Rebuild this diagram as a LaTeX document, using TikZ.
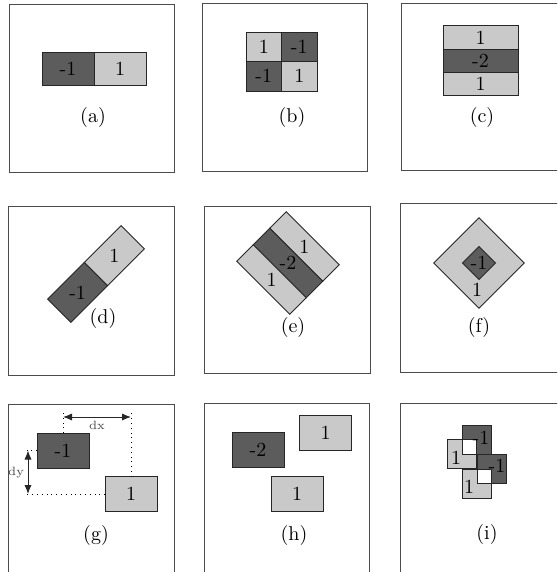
\documentclass[tikz,border=0pt]{standalone}
\usepackage{tikz}
\usetikzlibrary{arrows.meta}
\definecolor{cellneg}{gray}{0.36}
\definecolor{cellpos}{gray}{0.79}
\definecolor{framegray}{gray}{0.3}

\begin{document}
\begin{tikzpicture}[x=0.5pt,y=-0.5pt,
  every node/.style={inner sep=0pt,outer sep=0pt},
  frame/.style={draw=framegray,line width=0.45pt},
  celledge/.style={draw=black!85,line width=0.45pt},
  negfill/.style={fill=cellneg},
  posfill/.style={fill=cellpos},
  negcell/.style={negfill,celledge},
  poscell/.style={posfill,celledge},
  barcell/.style={minimum width=26pt,minimum height=16.5pt},
  blkcell/.style={minimum width=26pt,minimum height=17.5pt},
  quadcell/.style={minimum width=17.75pt,minimum height=14.75pt},
  stripcell/.style={minimum width=37.5pt,minimum height=11.6pt},
  smallsq/.style={minimum width=14.5pt,minimum height=14.5pt},
  dimline/.style={black!85,line width=0.5pt,{Latex[length=4.5pt,width=3.6pt]}-{Latex[length=4.5pt,width=3.6pt]}},
  dimtext/.style={font=\fontsize{6}{7}\selectfont,text=black!70}]
  \useasboundingbox (0,0) rectangle (557,572);
  \clip (0,0) rectangle (557,572);
  \foreach \x/\y/\X/\Y in {9/4/174/172,202/3/367/171,401/3/560/170,
                           8/206/174/375,204/206/370/373,400/203/560/372,
                           8/404/174/575,204/403/369/575,400/403/560/575}
    {\draw[frame] (\x,\y) rectangle (\X,\Y);}

  % (a)
  \node[negcell,barcell] (a1) at (68,68.5) {-1};
  \node[poscell,barcell] (a2) at (120,68.5) {1};
  \node (capa) at (93,118) {(a)};

  % (b)
  \node[poscell,quadcell] (b1) at (263.75,46.75) {1};
  \node[negcell,quadcell] (b2) at (299.25,46.75) {-1};
  \node[negcell,quadcell] (b3) at (263.75,76.25) {-1};
  \node[poscell,quadcell] (b4) at (299.25,76.25) {1};
  \node (capb) at (292,118) {(b)};

  % (c)
  \node[poscell,stripcell] (c1) at (480.5,37.5) {1};
  \node[negcell,stripcell] (c2) at (480.5,60.7) {-2};
  \node[poscell,stripcell] (c3) at (480.5,83.9) {1};
  \node (capc) at (482,118) {(c)};

  % (d)
  \begin{scope}[shift={(96,274)},rotate=45]
    \filldraw[negcell] (-52,-16.5) rectangle (0,16.5);
    \filldraw[poscell] (0,-16.5) rectangle (52,16.5);
    \node (d1) at (-26,0) {-1};
    \node (d2) at (26,0) {1};
  \end{scope}
  \node (capd) at (103,318) {(d)};

  % (e)
  \begin{scope}[shift={(288,263)},rotate=-45]
    \filldraw[poscell] (-37.5,-35) rectangle (37.5,-11.67);
    \filldraw[negcell] (-37.5,-11.67) rectangle (37.5,11.67);
    \filldraw[poscell] (-37.5,11.67) rectangle (37.5,35);
    \node (e1) at (0,-23.3) {1};
    \node (e2) at (0,0) {-2};
    \node (e3) at (0,23.3) {1};
  \end{scope}
  \node (cape) at (293,327) {(e)};

  % (f)
  \begin{scope}[shift={(479,263)},rotate=45]
    \filldraw[poscell] (-32,-32) rectangle (32,32);
    \filldraw[negcell] (-11.6,-11.6) rectangle (11.6,11.6);
    \node (f1) at (0,0) {-1};
  \end{scope}
  \node (f2) at (477,290) {1};
  \node (capf) at (479,327) {(f)};

  % (g)
  \node[negcell,blkcell] (g1) at (63,450.5) {-1};
  \node[poscell,blkcell] (g2) at (131,494) {1};
  \coordinate (dxtop) at (0,412);
  \coordinate (dxrow) at (0,417);
  \coordinate (dyleft) at (24,0);
  \coordinate (dycol) at (28,0);
  \draw[dotted] (g1.north) -- (g1.north |- dxtop);
  \draw[dotted] (g2.north) -- (g2.north |- dxtop);
  \draw[dotted] (g1.west) -- (g1.west -| dyleft);
  \draw[dotted] (g2.west) -- (g2.west -| dyleft);
  \draw[dimline] (g1.north |- dxrow) -- (g2.north |- dxrow)
    node[dimtext,midway,below=2pt] (dx) {dx};
  \draw[dimline] (g1.west -| dycol) -- (g2.west -| dycol)
    node[dimtext,midway,left=2pt] (dy) {dy};
  \node (capg) at (96,535) {(g)};

  % (h)
  \node[negcell,blkcell] (h1) at (258,449.5) {-2};
  \node[poscell,blkcell] (h2) at (325.5,433) {1};
  \node[poscell,blkcell] (h3) at (297,494) {1};
  \node (caph) at (294,535) {(h)};

  % (i)
  \node[negfill,smallsq] (i1) at (476.5,439.5) {};
  \node[posfill,smallsq] (i2) at (462,454) {};
  \node[negfill,smallsq] (i3) at (491.5,469) {};
  \node[posfill,smallsq] (i4) at (476.5,483.5) {};
  \fill[white] (i1.south west |- i2.north) rectangle (i2.east |- i1.south);
  \fill[white] (i3.west |- i4.north) rectangle (i4.east |- i3.south);
  \foreach \n in {i1,i2,i3,i4}
    {\draw[celledge] (\n.south west) rectangle (\n.north east);}
  \node (t1) at (481,438) {-1};
  \node (t2) at (456,458) {1};
  \node (t3) at (497,466) {-1};
  \node (t4) at (469,487) {1};
  \node (capi) at (487,534) {(i)};
\end{tikzpicture}
\end{document}
